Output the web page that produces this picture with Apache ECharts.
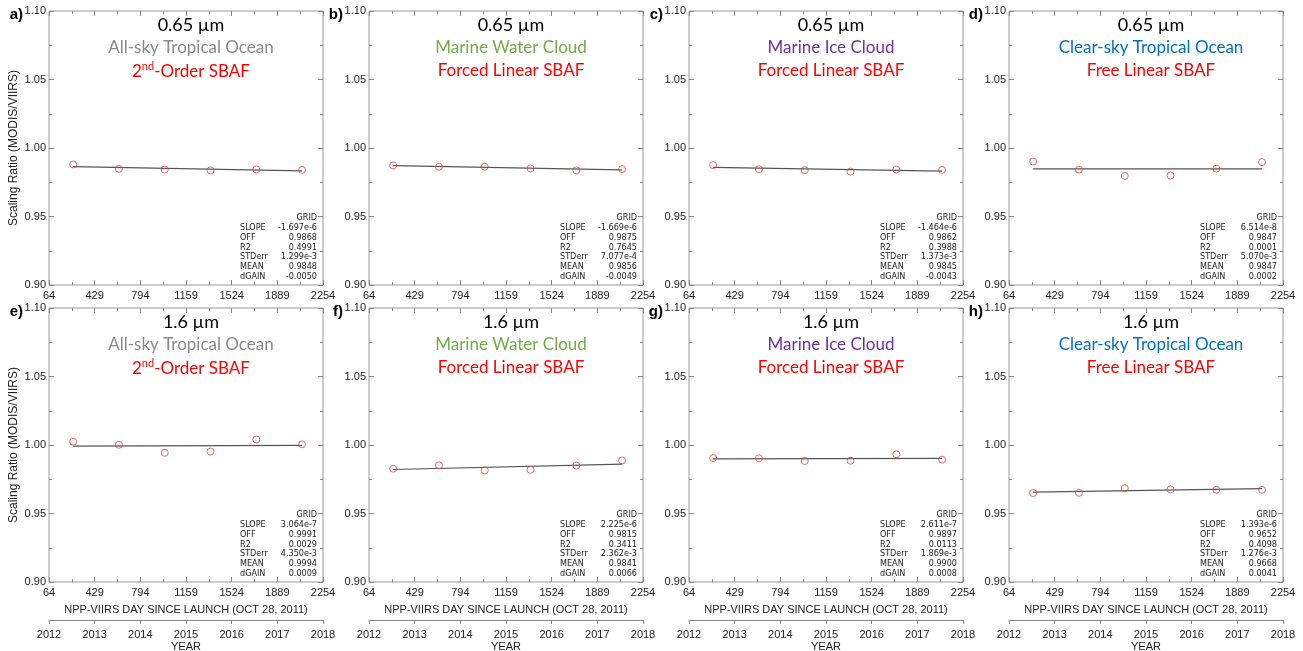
<!DOCTYPE html>
<html>
<head>
<meta charset="utf-8">
<script src="https://cdn.jsdelivr.net/npm/echarts@6/dist/echarts.min.js"></script>
<style>
  html, body { margin: 0; padding: 0; background: #fff; }
  #chart { width: 1303px; height: 651px; }
</style>
</head>
<body>
<div id="chart"></div>
<script>
// days since launch of the six yearly points (same for every panel)
const days = [257, 623, 989, 1355, 1721, 2087];

// scaling ratio per panel (a..h)
const ratioA = [0.9880, 0.9848, 0.9842, 0.9836, 0.9844, 0.9840];
const ratioB = [0.9873, 0.9863, 0.9863, 0.9851, 0.9837, 0.9846];
const ratioC = [0.9875, 0.9845, 0.9838, 0.9828, 0.9843, 0.9840];
const ratioD = [0.9901, 0.9842, 0.9796, 0.9799, 0.9849, 0.9897];
const ratioE = [1.0024, 1.0002, 0.9943, 0.9952, 1.0040, 1.0005];
const ratioF = [0.9827, 0.9852, 0.9815, 0.9819, 0.9850, 0.9887];
const ratioG = [0.9905, 0.9903, 0.9883, 0.9885, 0.9932, 0.9893];
const ratioH = [0.9649, 0.9651, 0.9685, 0.9676, 0.9673, 0.9673];
const ratios = [ratioA, ratioB, ratioC, ratioD, ratioE, ratioF, ratioG, ratioH];

// fit line value at first / last point
const fitStart = [0.9864, 0.9871, 0.9858, 0.9847, 0.9992, 0.9821, 0.9898, 0.9656];
const fitEnd   = [0.9833, 0.9840, 0.9831, 0.9848, 0.9997, 0.9861, 0.9902, 0.9681];

// text
const panelTags = ['a)', 'b)', 'c)', 'd)', 'e)', 'f)', 'g)', 'h)'];
const bands = ['0.65 µm', '0.65 µm', '0.65 µm', '0.65 µm', '1.6 µm', '1.6 µm', '1.6 µm', '1.6 µm'];
const scenes = ['All-sky Tropical Ocean', 'Marine Water Cloud', 'Marine Ice Cloud', 'Clear-sky Tropical Ocean'];
const sceneColors = ['#8a8a8a', '#70ad47', '#7030a0', '#0070c0'];
const methods = ['2nd-Order SBAF', 'Forced Linear SBAF', 'Forced Linear SBAF', 'Free Linear SBAF'];

// statistics boxes
const statNames = ['SLOPE', 'OFF', 'R2', 'STDerr', 'MEAN', 'dGAIN'];
const slopeText  = ['-1.697e-6', '-1.669e-6', '-1.464e-6', '6.514e-8', '3.064e-7', '2.225e-6', '2.611e-7', '1.393e-6'];
const offText    = ['0.9868', '0.9875', '0.9862', '0.9847', '0.9991', '0.9815', '0.9897', '0.9652'];
const r2Text     = ['0.4991', '0.7645', '0.3988', '0.0001', '0.0029', '0.3411', '0.0113', '0.4098'];
const stderrText = ['1.299e-3', '7.077e-4', '1.373e-3', '5.070e-3', '4.350e-3', '2.362e-3', '1.869e-3', '1.276e-3'];
const meanText   = ['0.9848', '0.9856', '0.9845', '0.9847', '0.9994', '0.9841', '0.9900', '0.9668'];
const dgainText  = ['-0.0050', '-0.0049', '-0.0043', '0.0002', '0.0009', '0.0066', '0.0008', '0.0041'];

// axes
const dayMin = 64, dayMax = 2254, dayStep = 365;
const yearMin = 2012, yearMax = 2018;
const ratioMin = 0.90, ratioMax = 1.10, ratioStep = 0.05;

// layout
const LEFTS = [49, 369, 689, 1009];
const TOPS = [11, 308];
const W = 274, H = 274;
const AXIS_FONT = '"Liberation Sans", Arial, Helvetica, sans-serif';
const TITLE_FONT = 'Lato, "Open Sans", "Noto Sans", sans-serif';
const STAT_FONT = '"Liberation Sans Narrow", "DejaVu Sans Condensed", "Liberation Sans", sans-serif';
const FRAME = '#9a9a9a';

const chart = echarts.init(document.getElementById('chart'));

const grid = [], xAxis = [], yAxis = [], series = [], graphic = [];

const tickCommon = {
  axisLine: { show: false },
  axisTick: { show: true, inside: true, length: 5, lineStyle: { color: '#888' } },
  minorTick: { show: true, splitNumber: 2, length: 3, lineStyle: { color: '#888' } },
  splitLine: { show: false },
  minorSplitLine: { show: false }
};

const plain = v => String(v);

function statsBlock(i, left, top) {
  const rows = [slopeText[i], offText[i], r2Text[i], stderrText[i], meanText[i], dgainText[i]];
  const right = left + W - 6;
  const font = '9px ' + STAT_FONT;
  const out = [{
    type: 'text', x: right, y: top + 207,
    style: { text: 'GRID', fill: '#222', font, align: 'right', textAlign: 'right', verticalAlign: 'middle', textVerticalAlign: 'middle' }
  }];
  rows.forEach((v, r) => {
    const y = top + 217 + r * 9.7;
    out.push({
      type: 'text', x: left + 191, y,
      style: { text: statNames[r], fill: '#222', font, align: 'left', textAlign: 'left', verticalAlign: 'middle', textVerticalAlign: 'middle' }
    });
    out.push({
      type: 'text', x: right, y,
      style: { text: v, fill: '#222', font, align: 'right', textAlign: 'right', verticalAlign: 'middle', textVerticalAlign: 'middle' }
    });
  });
  return out;
}

for (let i = 0; i < 8; i++) {
  const row = i < 4 ? 0 : 1;
  const col = i % 4;
  const left = LEFTS[col], top = TOPS[row];

  grid.push({
    left, top, width: W, height: H,
    outerBoundsMode: 'none', containLabel: false,
    show: true, borderColor: FRAME, borderWidth: 1, backgroundColor: 'transparent'
  });

  const xMain = xAxis.length;
  xAxis.push(Object.assign({
    gridIndex: i, type: 'value', position: 'bottom',
    min: dayMin, max: dayMax, interval: dayStep,
    axisLabel: { color: '#222', fontSize: 11, fontFamily: AXIS_FONT, margin: 5, formatter: plain },
    name: row === 1 ? 'NPP-VIIRS DAY SINCE LAUNCH (OCT 28, 2011)' : '',
    nameLocation: 'middle', nameGap: 22,
    nameTextStyle: { color: '#222', fontSize: 11, fontFamily: AXIS_FONT }
  }, tickCommon));
  xAxis.push(Object.assign({
    gridIndex: i, type: 'value', position: 'top',
    min: dayMin, max: dayMax, interval: dayStep,
    axisLabel: { show: false }
  }, tickCommon));
  if (row === 1) {
    xAxis.push({
      gridIndex: i, type: 'value', position: 'bottom', offset: 38,
      min: yearMin, max: yearMax, interval: 1,
      axisLine: { show: true, lineStyle: { color: '#888' } },
      axisTick: { show: true, inside: false, length: 4, lineStyle: { color: '#888' } },
      splitLine: { show: false },
      axisLabel: { color: '#222', fontSize: 11, fontFamily: AXIS_FONT, margin: 9, formatter: plain },
      name: 'YEAR', nameLocation: 'middle', nameGap: 21,
      nameTextStyle: { color: '#222', fontSize: 11, fontFamily: AXIS_FONT }
    });
  }

  const yMain = yAxis.length;
  yAxis.push(Object.assign({
    gridIndex: i, type: 'value', position: 'left',
    min: ratioMin, max: ratioMax, interval: ratioStep,
    axisLabel: { color: '#222', fontSize: 11, fontFamily: AXIS_FONT, margin: 3, formatter: v => v.toFixed(2) },
    name: col === 0 ? 'Scaling Ratio (MODIS/VIIRS)' : '',
    nameLocation: 'middle', nameGap: 29, nameRotate: 90,
    nameTextStyle: { color: '#222', fontSize: 12, fontFamily: AXIS_FONT }
  }, tickCommon));
  yAxis.push(Object.assign({
    gridIndex: i, type: 'value', position: 'right',
    min: ratioMin, max: ratioMax, interval: ratioStep,
    axisLabel: { show: false }
  }, tickCommon));

  series.push({
    type: 'line', xAxisIndex: xMain, yAxisIndex: yMain,
    data: [[days[0], fitStart[i]], [days[days.length - 1], fitEnd[i]]],
    symbol: 'none', silent: true,
    lineStyle: { color: '#555', width: 1.2 }
  });
  series.push({
    type: 'scatter', xAxisIndex: xMain, yAxisIndex: yMain,
    data: days.map((d, k) => [d, ratios[i][k]]),
    symbol: 'circle', symbolSize: 7,
    itemStyle: { color: 'rgba(0,0,0,0)', borderColor: '#e0463f', borderWidth: 1 },
    z: 3
  });

  // panel tag
  graphic.push({
    type: 'text', x: left - 26, y: top + 4,
    style: { text: panelTags[i], fill: '#000', font: 'bold 15px ' + AXIS_FONT, align: 'right', textAlign: 'right', verticalAlign: 'middle', textVerticalAlign: 'middle' }
  });

  // titles inside the plot
  const cx = left + 142;
  graphic.push({
    type: 'text', x: cx, y: top + 14,
    style: { text: bands[i], fill: '#000', font: '18px ' + TITLE_FONT, align: 'center', textAlign: 'center', verticalAlign: 'middle', textVerticalAlign: 'middle' }
  });
  graphic.push({
    type: 'text', x: cx, y: top + 36.5,
    style: { text: scenes[col], fill: sceneColors[col], font: '17px ' + TITLE_FONT, align: 'center', textAlign: 'center', verticalAlign: 'middle', textVerticalAlign: 'middle' }
  });
  if (col === 0) {
    graphic.push({
      type: 'text', x: cx, y: top + 59.5,
      style: {
        text: '{m|2}{s|nd}{m|-Order SBAF}',
        align: 'center', textAlign: 'center', verticalAlign: 'middle', textVerticalAlign: 'middle',
        rich: {
          m: { fill: '#ff0000', font: '17px ' + TITLE_FONT, lineHeight: 20, verticalAlign: 'bottom' },
          s: { fill: '#ff0000', font: '11px ' + TITLE_FONT, lineHeight: 20, verticalAlign: 'top' }
        }
      }
    });
  } else {
    graphic.push({
      type: 'text', x: cx, y: top + 59.5,
      style: { text: methods[col], fill: '#ff0000', font: '17px ' + TITLE_FONT, align: 'center', textAlign: 'center', verticalAlign: 'middle', textVerticalAlign: 'middle' }
    });
  }

  statsBlock(i, left, top).forEach(g => graphic.push(g));
}

chart.setOption({
  animation: false,
  backgroundColor: '#fff',
  grid, xAxis, yAxis, series, graphic
});
</script>
</body>
</html>
